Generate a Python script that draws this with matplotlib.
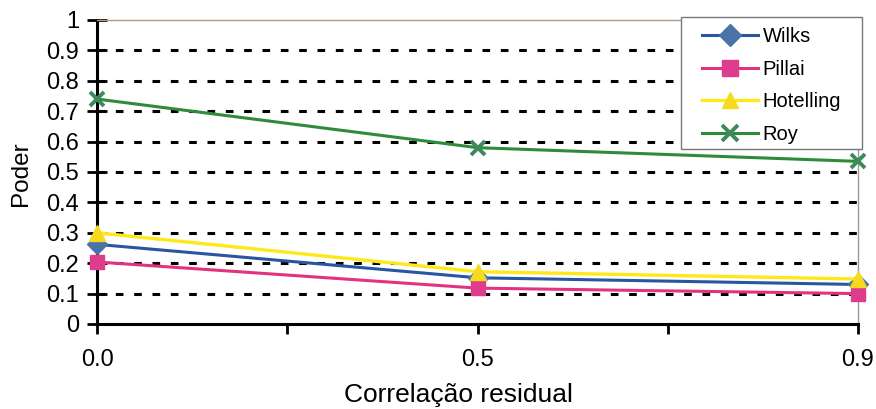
import numpy as np
from matplotlib import pyplot as plt
from matplotlib.patches import Rectangle

# Dados
categorias = ['0.0', '0.5', '0.9']
wilks = [0.262, 0.152, 0.13]
pillai = [0.204, 0.118, 0.10]
hotelling = [0.30, 0.172, 0.148]
roy = [0.74, 0.58, 0.535]
series = ['Wilks', 'Pillai', 'Hotelling', 'Roy']

plt.rcParams['font.family'] = ['Liberation Sans', 'DejaVu Sans']

W, H = 876, 409
fig = plt.figure(figsize=(W / 100, H / 100), dpi=100)
ax = fig.add_axes([97 / W, (H - 324) / H, 761 / W, 304 / H])

x = np.arange(len(categorias))

ax.plot(x, wilks, color='#2A55A0', lw=2.2, marker='D', ms=10, mfc='#4A74A8', mec='#4A74A8',
        label=series[0], zorder=3, clip_on=False)
ax.plot(x, pillai, color='#E3337F', lw=2.2, marker='s', ms=10, mfc='#DE3C8C', mec='#DE3C8C',
        label=series[1], zorder=3, clip_on=False)
ax.plot(x, hotelling, color='#FFE81A', lw=2.4, marker='^', ms=11, mfc='#F5DA20', mec='#F5DA20',
        label=series[2], zorder=3, clip_on=False)
ax.plot(x, roy, color='#2E8B3C', lw=2.2, marker='x', ms=10, mew=2.8, mec='#3E8A5C',
        label=series[3], zorder=3, clip_on=False)

ax.set_xlim(0, 2)
ax.set_ylim(0, 1)
ax.set_xticks([0, 0.5, 1, 1.5, 2])
ax.set_xticklabels([categorias[0], '', categorias[1], '', categorias[2]])
ax.set_yticks(np.arange(0, 1.01, 0.1))
ax.set_yticklabels(['0'] + ['%.1f' % v for v in np.arange(0.1, 0.95, 0.1)] + ['1'])

for v in np.arange(0.1, 0.95, 0.1):
    ax.axhline(v, color='black', lw=2.2, ls=(0, (2.5, 3.5)), zorder=1)

ax.tick_params(axis='y', direction='inout', length=14, width=2, labelsize=17, pad=6)
ax.tick_params(axis='x', direction='out', length=7, width=2, labelsize=17, pad=11)

ax.spines['left'].set_linewidth(2.2)
ax.spines['bottom'].set_linewidth(2.2)
ax.spines['top'].set_color('#b09a80')
ax.spines['top'].set_linewidth(1)
ax.spines['right'].set_color('#999999')
ax.spines['right'].set_linewidth(1)

fig.text(21 / W, 1 - 174 / H, 'Poder', rotation=90, fontsize=17.5, ha='center', va='center')
fig.text(458 / W, 1 - 402 / H, 'Correlação residual', fontsize=19, ha='center', va='baseline')

# caixa da legenda
box = Rectangle((681 / W, 1 - 149 / H), 181 / W, 132 / H, transform=fig.transFigure,
                facecolor='white', edgecolor='#777777', lw=1, zorder=4, clip_on=False)
ax.add_patch(box)

leg = ax.legend(loc='upper left', bbox_to_anchor=(696 / W, 1 - 21 / H), bbox_transform=fig.transFigure,
                fontsize=14.5, frameon=False, handlelength=2.8, handletextpad=0.2,
                labelspacing=0.68, borderpad=0.3, borderaxespad=0, markerscale=1.1)
leg.set_zorder(5)

fig.savefig('out.png', dpi=100)
